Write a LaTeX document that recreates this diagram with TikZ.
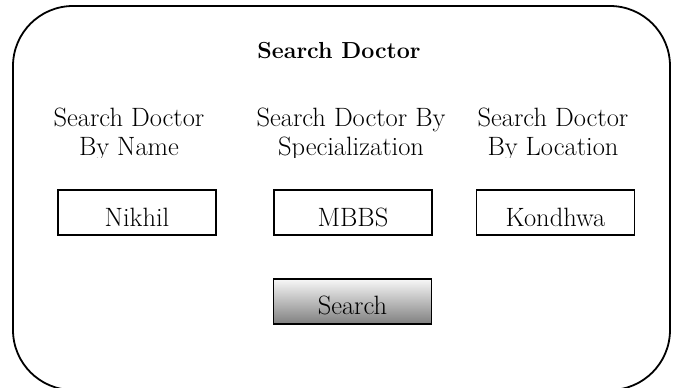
\documentclass[tikz,border=0pt]{standalone}
\usetikzlibrary{positioning}
\tikzset{
  frame/.style={line width=1.8pt, rounded corners=60pt},
  field/.style={draw, line width=1.4pt, minimum width=158pt, minimum height=45pt, inner sep=0pt},
  button/.style={field, top color=white!97!black, bottom color=black!50},
  entry/.style={font=\fontsize{26.5}{28}\selectfont, inner sep=0pt, anchor=base},
  caption/.style={font=\fontsize{26.5}{28}\selectfont, align=center, inner sep=0pt, anchor=base},
  heading/.style={font=\fontsize{23.2}{27}\selectfont\bfseries, inner sep=0pt, anchor=base},
}
\begin{document}
\begin{tikzpicture}[x=1pt,y=-1pt]
  \useasboundingbox (0,0) rectangle (678,388);
  \clip (0,0) rectangle (678,388);
  % outer panel
  \draw[frame] (13,6) rectangle (670,390);
  \node[heading] (title) at (339,58) {Search Doctor};

  % column captions, second line cut off at the bottom
  \begin{scope}
    \clip (0,0) rectangle (678,157);
    \node[caption] (byname) at (129,126) {Search Doctor};
    \node[caption] (byspec) at (351,126) {Search Doctor By};
    \node[caption] (byloc) at (553,126) {Search Doctor};
    \node[caption] (byname2) at (129,155) {By Name};
    \node[caption] (byspec2) at (351,155) {Specialization};
    \node[caption] (byloc2) at (553,155) {By Location};
  \end{scope}

  % input fields
  \node[field] (name) at (137,212.5) {};
  \node[field] (spec) at (353,212.5) {};
  \node[field] (loc) at (555.5,212.5) {};
  \node[entry] (nametxt) at (name |- 0,226) {Nikhil};
  \node[entry] (spectxt) at (spec |- 0,226) {MBBS};
  \node[entry] (loctxt) at (loc |- 0,226) {Kondhwa};

  % search button
  \node[button] (search) at (352.5,301.5) {};
  \node[entry] (searchtxt) at (search |- 0,314) {Search};
\end{tikzpicture}
\end{document}
